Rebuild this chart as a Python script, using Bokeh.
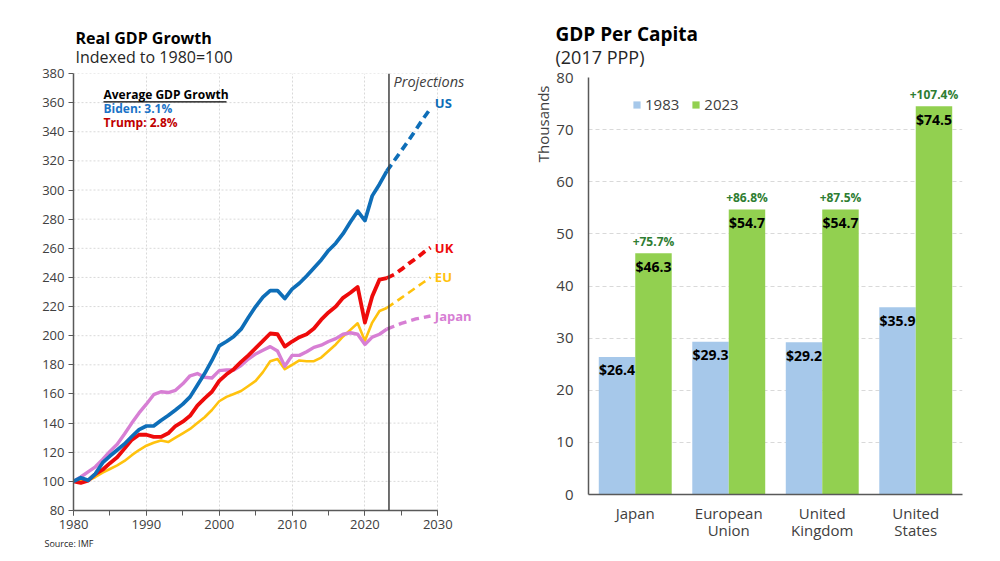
from bokeh.plotting import figure
from bokeh.models import (Label, Span, BoxAnnotation, SingleIntervalTicker,
                          FactorRange, ColumnDataSource, Title)
from bokeh.layouts import row
from bokeh.transform import dodge
from bokeh.embed import file_html
from bokeh.resources import INLINE
from bokeh.core.properties import value

FONT = "Open Sans"

# ---------------- Left chart data: Real GDP (1980 = 100) ----------------
years = list(range(1980, 2024))
us = [100, 102.5, 100.7, 105.2, 112.8, 117.4, 121.5, 125.7, 130.8, 135.5,
      138, 138, 141.8, 145.2, 149, 153, 158, 166, 174, 183,
      193, 196, 199.5, 204.5, 212.5, 220, 226.5, 231, 231, 225.5,
      232, 236, 241, 246.5, 252, 258.5, 263.5, 270, 278, 285.5,
      279, 296, 304, 313]
uk = [100, 99, 100.5, 105, 108, 112.5, 116.5, 122.5, 128.5, 132,
      132, 130.5, 130.5, 133, 138, 141, 145, 152, 157, 161.5,
      169, 173.5, 177, 182, 186.5, 191.5, 196.5, 201.5, 201, 192.5,
      196, 199, 201, 205, 211, 216, 220, 226, 229.5, 233.5,
      209, 227, 238.5, 239.5]
eu = [100, 100.5, 100.5, 103, 106, 108.5, 111, 114, 118, 121.5,
      124.5, 126.5, 128, 127, 130, 133, 136, 140, 144, 149,
      155, 158, 160, 162, 165.5, 169, 175, 182.5, 184, 177,
      180, 183, 182.5, 182.5, 185, 189.5, 194, 199.5, 204, 208.5,
      196.5, 209, 217, 219]
japan = [100, 103, 106.5, 110, 115, 120.5, 125.5, 132.5, 140, 147,
         153, 159.5, 161.5, 161, 162.5, 167, 172.5, 174, 171.5, 171,
         176, 176.5, 176.5, 179.5, 184, 187.5, 190, 192.5, 189.5, 179,
         186.5, 186.5, 189, 192, 193.5, 196, 198, 201, 202, 201,
         194, 199, 201, 204.5]

proj_years = list(range(2023, 2030))
us_proj = [313, 320, 327, 334, 341.5, 349, 356]
uk_proj = [239.5, 242, 245.5, 249.5, 253, 257, 260.5]
eu_proj = [219, 222.5, 226, 229.5, 233, 236.5, 240]
japan_proj = [204.5, 206.5, 208.5, 210, 211.5, 212.5, 213.5]

series_names = ["US", "UK", "EU", "Japan"]
projection_start = 2023.3
y_ticks = list(range(80, 381, 20))
x_axis_end = 2030

# ---------------- Right chart data: GDP per capita ----------------
countries = ["Japan", "European\nUnion", "United\nKingdom", "United\nStates"]
gdp_1983 = [26.4, 29.3, 29.2, 35.9]
gdp_2023 = [46.3, 54.7, 54.7, 74.5]
growth_labels = ["+75.7%", "+86.8%", "+87.5%", "+107.4%"]

# ---------------- Styles ----------------
C_US, C_UK, C_EU, C_JP = "#0E6EB8", "#EE0B0B", "#FFC20E", "#D77FD4"
AX = "#595959"
TXT = "#404040"
GRID = "#D9D9D9"


def make_title(text, offset, standoff, size, style, color):
    try:
        return Title(text=text, align="left", offset=offset, standoff=standoff,
                     text_font=FONT, text_font_size=size,
                     text_font_style=style, text_color=color)
    except Exception:
        return Title(text=text, align="left", offset=offset, standoff=0,
                     text_font=FONT, text_font_size=size,
                     text_font_style=style, text_color=color)


# ================= Left figure =================
p1 = figure(width=508, height=556, x_range=(1980, 2036), y_range=(80, 380),
            output_backend="svg", toolbar_location=None,
            min_border_left=73, min_border_right=27,
            min_border_top=73, min_border_bottom=46)
p1.outline_line_color = None
try:
    p1.frame_align = False
except Exception:
    pass

for ax in (p1.xaxis[0], p1.yaxis[0]):
    ax.axis_line_color = AX
    ax.axis_line_width = 1.5
    ax.major_tick_line_color = AX
    ax.minor_tick_line_color = AX
    ax.major_tick_in = 0
    ax.major_tick_out = 5
    ax.minor_tick_in = 0
    ax.minor_tick_out = 5
    ax.major_label_text_font = FONT
    ax.major_label_text_font_size = "13px"
    ax.major_label_text_color = TXT
    ax.major_label_standoff = 4

p1.xaxis[0].ticker = SingleIntervalTicker(interval=10, num_minor_ticks=2)
p1.xaxis[0].bounds = (years[0], x_axis_end)
p1.yaxis[0].ticker = SingleIntervalTicker(interval=20, num_minor_ticks=0)
p1.xgrid.grid_line_color = GRID
p1.xgrid.grid_line_dash = "2 2"
p1.ygrid.grid_line_color = None
p1.segment(x0=[years[0]] * len(y_ticks), x1=[x_axis_end] * len(y_ticks),
           y0=y_ticks, y1=y_ticks, line_color=GRID, line_dash="2 2", line_width=1)

hist = [(eu, eu_proj, C_EU, 2.6), (japan, japan_proj, C_JP, 3.4),
        (uk, uk_proj, C_UK, 3.8), (us, us_proj, C_US, 3.7)]
for vals, proj, col, w in hist:
    p1.line(years, vals, line_color=col, line_width=w, line_join="round")
    p1.line(proj_years, proj, line_color=col, line_width=w, line_dash="8 5")

p1.add_layout(Span(location=projection_start, dimension="height",
                   line_color="#404040", line_width=1.5))

end_vals = [us_proj[-1], uk_proj[-1], eu_proj[-1], japan_proj[-1]]
end_cols = [C_US, C_UK, C_EU, C_JP]
end_dy = [3.5, 0, 0, 0]
for name, v, col, dy in zip(series_names, end_vals, end_cols, end_dy):
    p1.add_layout(Label(x=proj_years[-1] + 0.6, y=v + dy, text=name,
                        text_color=col, text_font=FONT, text_font_style="bold",
                        text_font_size="13px", text_baseline="middle",
                        text_align="left"))


def slabel(p, x, y, text, size, color="black", style="normal", align="left"):
    p.add_layout(Label(x=x, y=y, x_units="screen", y_units="screen", text=text,
                       text_font=FONT, text_font_size=size, text_color=color,
                       text_font_style=style, text_align=align,
                       text_baseline="middle"))


slabel(p1, 320, 429, "Projections", "14.5px", color=TXT, style="italic")
slabel(p1, 30, 416, "Average GDP Growth", "12px", style="bold")
slabel(p1, 30, 402, "Biden: 3.1%", "12px", color="#1A73C7", style="bold")
slabel(p1, 30, 388, "Trump: 2.8%", "12px", color="#C00000", style="bold")
p1.add_layout(BoxAnnotation(left=30, right=153, bottom=408, top=409.3,
                            left_units="screen", right_units="screen",
                            bottom_units="screen", top_units="screen",
                            fill_color="black", fill_alpha=1, line_alpha=0))

# titles (first added = closest to the frame)
p1.add_layout(make_title("Indexed to 1980=100", 2, 11, "16px", "normal", "#262626"), "above")
p1.add_layout(make_title("Real GDP Growth", 2, -20, "16px", "bold", "black"), "above")
p1.add_layout(make_title("Source: IMF", -29, 6, "9px", "normal", "#262626"), "below")

# ================= Right figure =================
p2 = figure(width=490, height=556, x_range=FactorRange(*countries),
            y_range=(0, 80), output_backend="svg", toolbar_location=None,
            min_border_left=80, min_border_right=36,
            min_border_top=77, min_border_bottom=62)
p2.outline_line_color = None
try:
    p2.frame_align = False
except Exception:
    pass

src = ColumnDataSource(dict(
    c=countries, a=gdp_1983, b=gdp_2023,
    la=[f"${v}" for v in gdp_1983], lb=[f"${v}" for v in gdp_2023],
    g=growth_labels))

p2.vbar(x=dodge("c", -0.195, range=p2.x_range), top="a", width=0.39,
        source=src, fill_color="#A6C8EA", line_color=None, legend_label="1983")
p2.vbar(x=dodge("c", 0.195, range=p2.x_range), top="b", width=0.39,
        source=src, fill_color="#92D050", line_color=None, legend_label="2023")

txt_kw = dict(text_align="center", text_baseline="middle",
              text_font=value(FONT), text_font_style="bold", source=src)
p2.text(x=dodge("c", -0.195, range=p2.x_range), y="a", text="la",
        y_offset=13, text_font_size="14px", text_color="black", **txt_kw)
p2.text(x=dodge("c", 0.195, range=p2.x_range), y="b", text="lb",
        y_offset=13, text_font_size="14px", text_color="black", **txt_kw)
p2.text(x=dodge("c", 0.195, range=p2.x_range), y="b", text="g",
        y_offset=-12, text_font_size="12px", text_color="#2E7D32", **txt_kw)

p2.yaxis[0].ticker = SingleIntervalTicker(interval=10, num_minor_ticks=0)
for ax in (p2.xaxis[0], p2.yaxis[0]):
    ax.axis_line_color = AX
    ax.axis_line_width = 1.5
    ax.major_tick_line_color = None
    ax.minor_tick_line_color = None
    ax.major_tick_out = 0
    ax.major_tick_in = 0
    ax.major_label_text_font = FONT
    ax.major_label_text_font_size = "15px"
    ax.major_label_text_color = TXT
p2.yaxis[0].major_label_standoff = 15
p2.xaxis[0].major_label_standoff = 8
p2.xaxis[0].major_label_text_line_height = 0.85
p2.xgrid.grid_line_color = None
p2.ygrid.grid_line_color = GRID
p2.ygrid.grid_line_dash = "4 3"

lg = p2.legend[0]
lg.orientation = "horizontal"
lg.location = (44, 380)
lg.background_fill_alpha = 0
lg.border_line_alpha = 0
lg.padding = 0
lg.margin = 0
lg.spacing = 12
lg.glyph_width = 9
lg.glyph_height = 9
lg.label_standoff = 4
lg.label_text_font = FONT
lg.label_text_font_size = "15px"
lg.label_text_color = TXT

p2.add_layout(make_title("(2017 PPP)", -33, 18, "18px", "normal", "#262626"), "above")
p2.add_layout(make_title("GDP Per Capita", -33, -26, "19px", "bold", "black"), "above")
p2.add_layout(Title(text="Thousands", align="right", offset=8,
                    standoff=2, text_font=FONT, text_font_size="15px",
                    text_font_style="normal", text_color=TXT), "left")

layout = row(p1, p2)
open("out.html", "w").write(file_html(layout, INLINE))
